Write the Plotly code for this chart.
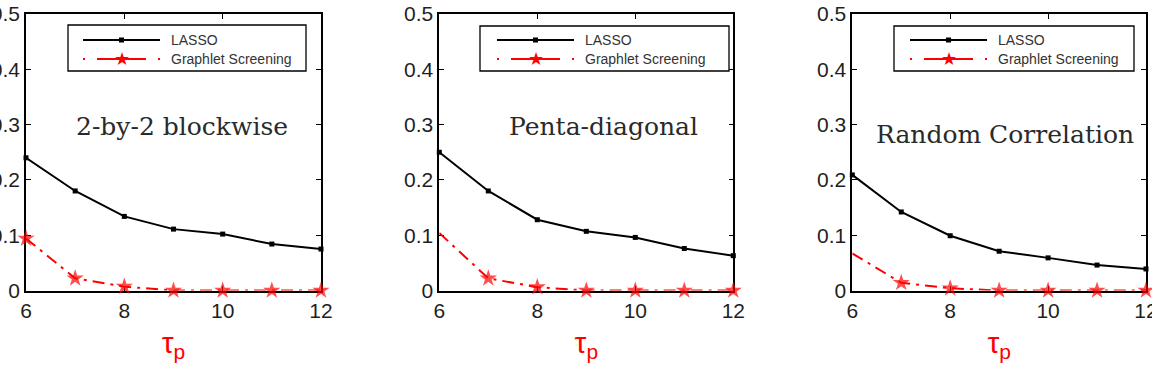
import plotly.graph_objects as go

# ---------------- data ----------------
tau = [6, 7, 8, 9, 10, 11, 12]

lasso_blockwise = [0.240, 0.180, 0.134, 0.111, 0.102, 0.084, 0.075]
gs_blockwise = [0.094, 0.022, 0.007, 0.0, 0.0, 0.0, 0.0]

lasso_penta = [0.250, 0.180, 0.128, 0.107, 0.096, 0.076, 0.063]
gs_penta = [0.104, 0.022, 0.006, 0.0, 0.0, 0.0, 0.0]

lasso_random = [0.209, 0.142, 0.099, 0.071, 0.059, 0.046, 0.039]
gs_random = [0.067, 0.014, 0.004, 0.0, 0.0, 0.0, 0.0]

panel_titles = ["2-by-2 blockwise", "Penta-diagonal", "Random Correlation"]
series_names = ["LASSO", "Graphlet Screening"]

x_ticks = [6, 8, 10, 12]
x_tick_labels = ["6", "8", "10", "12"]
y_ticks = [0, 0.1, 0.2, 0.3, 0.4, 0.5]
y_tick_labels = ["0", "0.1", "0.2", "0.3", "0.4", "0.5"]

# ---------------- layout helpers ----------------
W, H = 1152, 381


def px(x):
    return x / W


def py(y):
    return 1 - y / H


x_domains = [(26, 321), (439.3, 733.3), (852.3, 1146)]
y_domain = [py(290.5), py(14)]

lasso_sets = [lasso_blockwise, lasso_penta, lasso_random]
gs_sets = [gs_blockwise, gs_penta, gs_random]
gs_first_marker = [13, 0, 0]

title_pos = [(182, 127), (603, 127), (1005, 134)]
legend_boxes = [(68, 25, 306, 71), (480, 26, 729, 71), (894, 26, 1134, 71)]
legend_lines = [(83, 160, 169), (497, 574, 583), (910, 987, 996)]
row_y = [40, 59]

RED = "#ff0000"
TXT = "#1f1f1f"
SANS = "Liberation Sans, Arial, sans-serif"
GS_DASH = "12px,6px,3px,6px"

fig = go.Figure()
shapes = []
annotations = []

for i in range(3):
    sfx = "" if i == 0 else str(i + 1)
    xa, ya = "x" + sfx, "y" + sfx
    fig.add_trace(go.Scatter(
        x=tau, y=lasso_sets[i], xaxis=xa, yaxis=ya, mode="lines+markers",
        name=series_names[0], showlegend=False, cliponaxis=False,
        line=dict(color="black", width=2),
        marker=dict(symbol="square", size=5, color="black")))
    sizes = [gs_first_marker[i]] + [13] * (len(tau) - 1)
    fig.add_trace(go.Scatter(
        x=tau, y=gs_sets[i], xaxis=xa, yaxis=ya, mode="lines+markers",
        name=series_names[1], showlegend=False, cliponaxis=False,
        line=dict(color=RED, width=2, dash=GS_DASH),
        marker=dict(symbol="star", size=sizes, color=RED,
                    line=dict(width=0))))

    axis_common = dict(
        showline=True, linecolor="black", linewidth=1.6, mirror="ticks",
        ticks="inside", ticklen=5, tickwidth=1, tickcolor="black",
        showgrid=False, zeroline=False, layer="below traces", automargin=False,
        ticklabeloverflow="allow",
        tickfont=dict(family=SANS, size=21, color=TXT),
    )
    fig.layout["xaxis" + sfx] = dict(
        axis_common, domain=[px(x_domains[i][0]), px(x_domains[i][1])],
        range=[6, 12], tickvals=x_ticks, ticktext=x_tick_labels,
        anchor=ya,
        title=dict(text="τ<sub>p</sub>", standoff=11,
                   font=dict(family=SANS, size=30, color=RED)))
    fig.layout["yaxis" + sfx] = dict(
        axis_common, domain=y_domain, range=[0, 0.5],
        tickvals=y_ticks, ticktext=y_tick_labels, anchor=xa)

    # panel label
    tx, ty = title_pos[i]
    annotations.append(dict(
        x=px(tx), y=py(ty), xref="paper", yref="paper", text=panel_titles[i],
        showarrow=False, xanchor="center", yanchor="middle",
        font=dict(family="DejaVu Serif, serif", size=25, color="#2a2a2a")))

    # legend box (drawn manually to match the original sample length)
    bx0, by0, bx1, by1 = legend_boxes[i]
    shapes.append(dict(type="rect", xref="paper", yref="paper",
                       x0=px(bx0), x1=px(bx1), y0=py(by1), y1=py(by0),
                       line=dict(color="black", width=1.3), fillcolor="white", layer="above"))
    lx0, lx1, tx0 = legend_lines[i]
    lc = (lx0 + lx1) / 2
    # LASSO sample
    shapes.append(dict(type="line", xref="paper", yref="paper",
                       x0=px(lx0), x1=px(lx1), y0=py(row_y[0]), y1=py(row_y[0]),
                       line=dict(color="black", width=2), layer="above"))
    shapes.append(dict(type="rect", xref="paper", yref="paper",
                       x0=px(lc - 2.5), x1=px(lc + 2.5), y0=py(row_y[0] + 2.5), y1=py(row_y[0] - 2.5),
                       line=dict(color="black", width=0), fillcolor="black", layer="above"))
    # Graphlet Screening sample: dot, dash (with star), dot
    shapes.append(dict(type="line", xref="paper", yref="paper",
                       x0=px(lx0), x1=px(lx1), y0=py(row_y[1]), y1=py(row_y[1]),
                       line=dict(color=RED, width=2, dash="2px,12px,49px,12px,2px,40px"),
                       layer="above"))
    annotations.append(dict(
        x=px(lc), y=py(row_y[1]), xref="paper", yref="paper", text="★",
        showarrow=False, xanchor="center", yanchor="middle",
        font=dict(family="DejaVu Sans", size=18, color=RED)))
    for r in range(2):
        annotations.append(dict(
            x=px(tx0), y=py(row_y[r]), xref="paper", yref="paper", text=series_names[r],
            showarrow=False, xanchor="left", yanchor="middle",
            font=dict(family=SANS, size=14, color="#333333")))

fig.update_layout(
    width=W, height=H, margin=dict(l=0, r=0, t=0, b=0, autoexpand=False),
    paper_bgcolor="white", plot_bgcolor="white",
    showlegend=False, shapes=shapes, annotations=annotations,
)

fig.write_html("out.html")
